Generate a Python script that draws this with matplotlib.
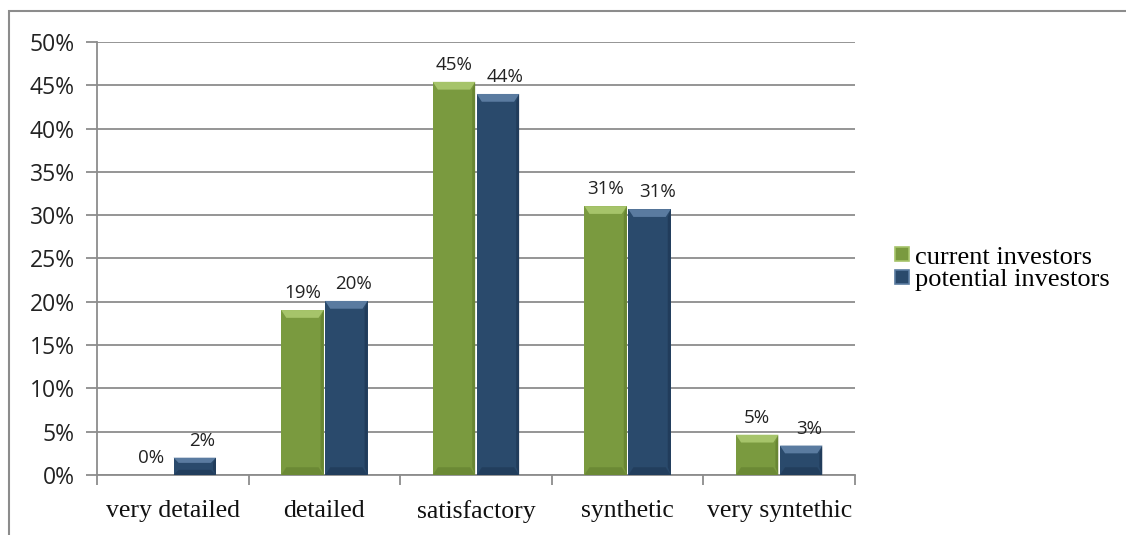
import matplotlib
matplotlib.use("Agg")
import matplotlib.pyplot as plt
import numpy as np
from matplotlib.patches import Rectangle, Polygon
from matplotlib.lines import Line2D

categories = ["very detailed", "detailed", "satisfactory", "synthetic", "very syntethic"]
current = [0.0, 19.05, 45.4, 31.05, 4.65]
potential = [2.0, 20.1, 44.0, 30.7, 3.4]
current_labels = ["0%", "19%", "45%", "31%", "5%"]
potential_labels = ["2%", "20%", "44%", "31%", "3%"]
series_names = ["current investors", "potential investors"]
yticks = [0, 5, 10, 15, 20, 25, 30, 35, 40, 45, 50]

green = "#7a9a3f"
green_light = "#a6c46a"
green_dark = "#5e7a2c"
blue = "#2a4a6c"
blue_light = "#5a7ba0"
blue_dark = "#1c3450"

fig = plt.figure(figsize=(11.26, 5.35), dpi=100)
ax = fig.add_axes([97/1126, 60/535, (855-97)/1126, (475-42)/535])

n = len(categories)
x = np.arange(n)
w = 0.28

def bevel_bar(xc, h, base, light, dark):
    if h <= 0:
        return
    left = xc - w/2
    ax.add_patch(Rectangle((left, 0), w, h, facecolor=base, edgecolor="none", zorder=3))
    bx = w * 0.12
    by = min(0.9, h * 0.3)
    ax.add_patch(Polygon([(left, h), (left + w, h), (left + w - bx, h - by), (left + bx, h - by)],
                         closed=True, facecolor=light, edgecolor="none", zorder=4))
    ax.add_patch(Polygon([(left + w, 0), (left + w, h), (left + w - bx*0.6, h - by), (left + w - bx*0.6, min(by, h/2))],
                         closed=True, facecolor=dark, edgecolor="none", alpha=0.6, zorder=4))
    ax.add_patch(Polygon([(left, 0), (left + w, 0), (left + w - bx, min(by, h/2)), (left + bx, min(by, h/2))],
                         closed=True, facecolor=dark, edgecolor="none", alpha=0.5, zorder=4))

for i in range(n):
    xg = x[i] - w/2 - 0.005
    xb = x[i] + w/2 + 0.005
    bevel_bar(xg, current[i], green, green_light, green_dark)
    bevel_bar(xb, potential[i], blue, blue_light, blue_dark)
    ax.text(xg, current[i] + 0.9, current_labels[i], ha="center", va="bottom",
            fontsize=13.5, family="Open Sans", color="#222222", zorder=5)
    ax.text(xb + 0.05, potential[i] + 0.9, potential_labels[i], ha="center", va="bottom",
            fontsize=13.5, family="Open Sans", color="#222222", zorder=5)

ax.set_xlim(-0.5, n - 0.5)
ax.set_ylim(0, 50)
ax.set_yticks(yticks)
ax.set_yticklabels([f"{t}%" for t in yticks], fontsize=16.5, family="Open Sans", color="#222222")
ax.yaxis.grid(True, color="#8c8c8c", linewidth=1.3, zorder=0)
ax.set_axisbelow(True)
for s in ["top", "right"]:
    ax.spines[s].set_visible(False)
ax.spines["left"].set_color("#8c8c8c")
ax.spines["left"].set_linewidth(1.3)
ax.spines["bottom"].set_color("#8c8c8c")
ax.spines["bottom"].set_linewidth(1.3)
ax.tick_params(axis="y", length=8, width=1.3, color="#8c8c8c", pad=8)
ax.set_xticks(np.arange(-0.5, n, 1.0))
ax.set_xticklabels([""] * (n + 1))
ax.set_xticks(x, minor=True)
ax.set_xticklabels(categories, minor=True, fontsize=18.5, family="Liberation Serif", color="#111111")
ax.tick_params(axis="x", which="major", length=7, width=1.3, color="#8c8c8c", direction="out")
ax.tick_params(axis="x", which="minor", length=0, pad=18)

handles = [Line2D([0], [0], marker="s", linestyle="none", markersize=10, markerfacecolor=green,
                  markeredgecolor=green_light, markeredgewidth=1.2),
           Line2D([0], [0], marker="s", linestyle="none", markersize=10, markerfacecolor=blue,
                  markeredgecolor=blue_light, markeredgewidth=1.2)]
fig.legend(handles, series_names, loc="center left", bbox_to_anchor=(878/1126, 1 - 268/535),
           frameon=False, prop={"family": "Liberation Serif", "size": 19},
           handletextpad=0.0, labelspacing=-0.05, handlelength=1.0, borderaxespad=0)

fig.patches.append(Rectangle((9/1126, -0.05), 1.2, (535 - 11)/535 + 0.05, transform=fig.transFigure,
                             fill=False, edgecolor="#8c8c8c", linewidth=1.5))

fig.savefig("out.png", dpi=100, facecolor="white")
